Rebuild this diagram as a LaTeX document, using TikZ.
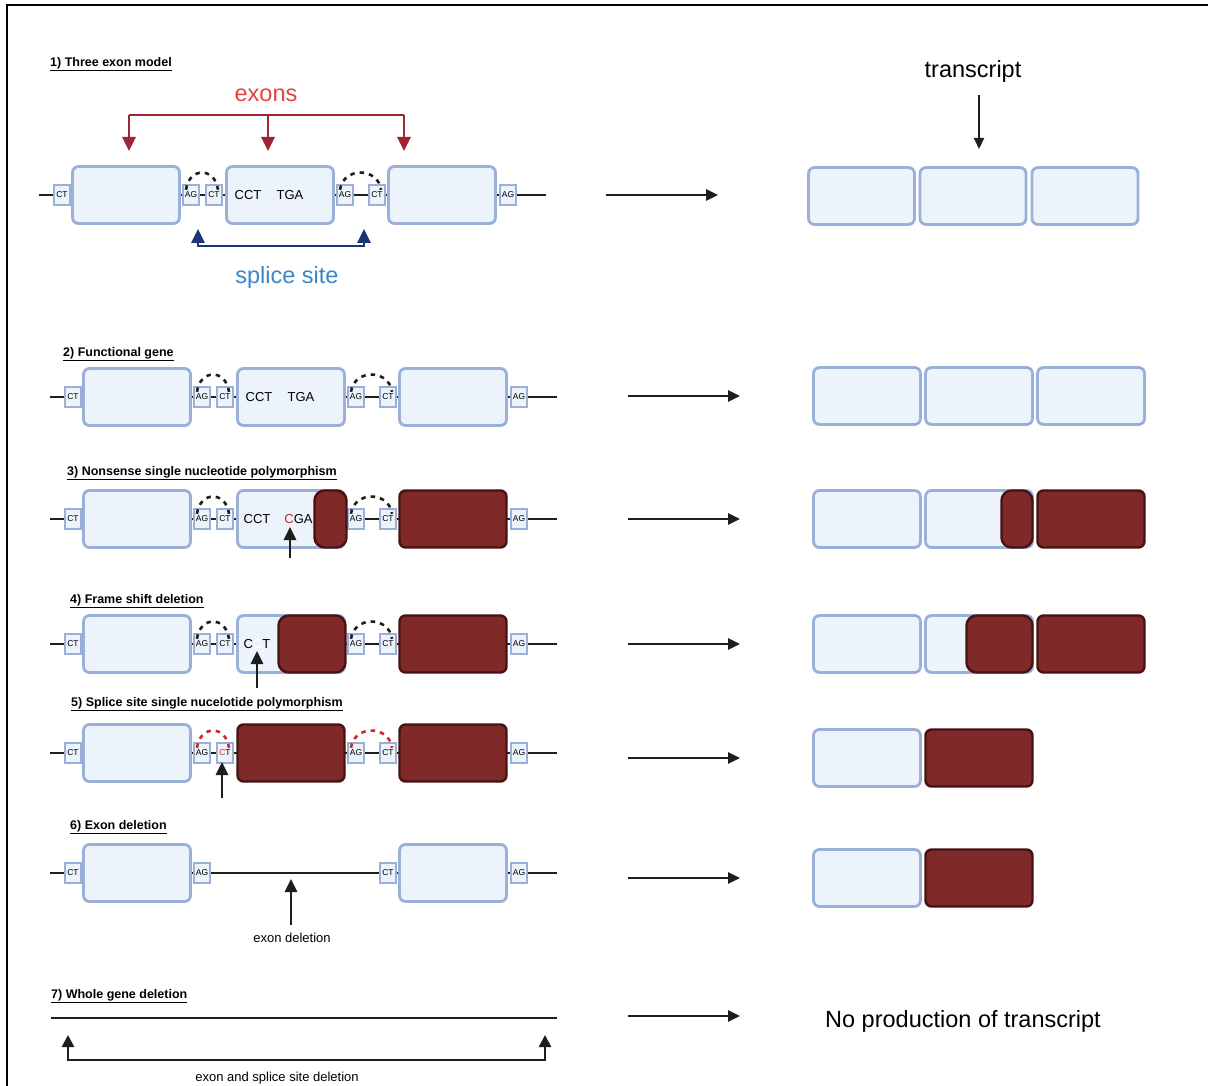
\documentclass[tikz,border=0pt]{standalone}
\usepackage{fontspec}
\setmainfont{Liberation Sans}
\usetikzlibrary{arrows.meta,calc}
\definecolor{efill}{RGB}{236,243,251}
\definecolor{ebord}{RGB}{155,176,217}
\definecolor{mfill}{RGB}{127,41,41}
\definecolor{mbord}{RGB}{72,18,18}
\definecolor{exred}{RGB}{232,68,62}
\definecolor{brred}{RGB}{158,36,54}
\definecolor{navy}{RGB}{28,52,120}
\definecolor{splblue}{RGB}{58,135,200}
\definecolor{snpred}{RGB}{205,40,40}
\definecolor{ink}{RGB}{30,30,30}
\tikzset{
 exon/.style={draw=ebord, fill=efill, line width=2.8pt, rounded corners=6pt, minimum width=107pt, minimum height=57pt, inner sep=0pt},
 mexon/.style={draw=mbord, fill=mfill, line width=2.4pt},
 mutblock/.style={draw=mbord, fill=mfill, line width=2.4pt, rounded corners=10pt, minimum height=57pt, inner sep=0pt},
 sitebox/.style={draw=ebord, fill=efill, line width=2.4pt, minimum width=16pt, minimum height=20pt, inner sep=0pt, font=\fontsize{8.5}{9}\selectfont},
 backbone/.style={draw=ink, line width=2.8pt},
 splice/.style={ink, line width=2.6pt, dash pattern=on 4.5pt off 5pt},
 heading/.style={anchor=west, font=\fontsize{12.5}{14}\selectfont\bfseries, inner sep=0pt},
 codon/.style={font=\fontsize{13}{14}\selectfont, inner sep=0pt},
 bigtext/.style={font=\fontsize{23.5}{26}\selectfont, inner sep=0pt},
 smalltext/.style={font=\fontsize{13}{15}\selectfont, inner sep=0pt},
 flow/.style={ink, line width=2.6pt, -{Triangle[length=12pt,width=11pt]}},
 pointer/.style={ink, line width=2.6pt, -{Triangle[length=13pt,width=12pt]}},
}
\newcommand{\GeneRow}[7]{%
\begin{scope}[shift={(#2,#3)}]
\coordinate (#1L) at (50,0);
\coordinate (#1R) at (557,0);
\draw[backbone] (#1L) -- (#1R);
\node[sitebox] (#1c1) at (73,0) {CT};
\node[exon] (#1e1) at (137,0) {};
\node[sitebox] (#1a1) at (202,0) {AG};
\node[sitebox] (#1c2) at (225,0) {#7};
\node[exon,#4] (#1e2) at (291,0) {};
\node[sitebox] (#1a2) at (356,0) {AG};
\node[sitebox] (#1c3) at (388,0) {CT};
\node[exon,#5] (#1e3) at (453,0) {};
\node[sitebox] (#1a3) at (519,0) {AG};
\end{scope}
\draw[splice,#6] ($(#1a1.north)+(-5,6)$) .. controls +(3,-23) and +(-3,-23) .. ($(#1c2.north)+(4,6)$);
\draw[splice,#6] ($(#1a2.north)+(-5,6)$) .. controls +(3,-23) and +(-3,-23) .. ($(#1c3.north)+(4,6)$);
}
\begin{document}
\begin{tikzpicture}[x=1pt,y=-1pt]
\useasboundingbox (0,0) rectangle (1208,1086);
\fill[white] (0,0) rectangle (1208,1086);
\draw[line width=2.2pt] (7,1090) -- (7,5) -- (1212,5);

% ---------- headings
\node[heading] (h1) at (50,64) {\underline{1) Three exon model}};
\node[heading] (h2) at (63,354) {\underline{2) Functional gene}};
\node[heading] (h3) at (67,473) {\underline{3) Nonsense single nucleotide polymorphism}};
\node[heading] (h4) at (70,601) {\underline{4) Frame shift deletion}};
\node[heading] (h5) at (71,704) {\underline{5) Splice site single nucelotide polymorphism}};
\node[heading] (h6) at (70,827) {\underline{6) Exon deletion}};
\node[heading] (h7) at (51,996) {\underline{7) Whole gene deletion}};

% ---------- row 1
\GeneRow{r1}{-11}{195}{}{}{ink}{CT}
\node[codon] (r1cct) at (248,195) {CCT};
\node[codon] (r1tga) at (290,195) {TGA};
% exons bracket
\node[bigtext, text=exred] (exlab) at (266,95) {exons};
\coordinate (exA) at (129,115); \coordinate (exB) at (268,115); \coordinate (exC) at (404,115);
\coordinate (exAt) at (129,151); \coordinate (exBt) at (268,151); \coordinate (exCt) at (404,151);
\draw[brred, line width=2.8pt] (exA) -- (exC);
\draw[brred, line width=2.8pt, -{Triangle[length=14pt,width=13pt]}] (exA) -- (exAt);
\draw[brred, line width=2.8pt, -{Triangle[length=14pt,width=13pt]}] (exB) -- (exBt);
\draw[brred, line width=2.8pt, -{Triangle[length=14pt,width=13pt]}] (exC) -- (exCt);
% splice site bracket
\coordinate (ssA) at (198,229); \coordinate (ssB) at (364,229);
\draw[navy, line width=2.8pt, {Triangle[length=14pt,width=13pt]}-{Triangle[length=14pt,width=13pt]}] (ssA) -- ++(0,17) -| (ssB);
\node[bigtext, text=splblue] (sslab) at (287,277) {splice site};

% ---------- transcript (row 1)
\node[bigtext] (txlab) at (973,71) {transcript};
\coordinate (txA) at (979,95); \coordinate (txB) at (979,149);
\draw[ink, line width=2pt, -{Triangle[length=11pt,width=10pt]}] (txA) -- (txB);
\node[exon, minimum width=106pt] (t1a) at (861.5,196) {};
\node[exon, minimum width=106pt] (t1b) at (973,196) {};
\node[exon, minimum width=106pt] (t1c) at (1085,196) {};

% ---------- row 2
\GeneRow{r2}{0}{397}{}{}{ink}{CT}
\node[codon] (r2cct) at (259,397) {CCT};
\node[codon] (r2tga) at (301,397) {TGA};
\node[exon] (t2a) at (867,396) {};
\node[exon] (t2b) at (979,396) {};
\node[exon] (t2c) at (1091,396) {};

% ---------- row 3
\GeneRow{r3}{0}{519}{}{mexon}{ink}{CT}
\node[codon] (r3cct) at (257,519) {CCT};
\node[codon] (r3cga) at (298.5,519) {{\color{snpred}C}GA};
\node[mutblock, minimum width=32pt] (r3m) at (330.5,519) {};
\coordinate (r3p) at (290,558); \coordinate (r3t) at (290,527);
\draw[pointer] (r3p) -- (r3t);
\node[exon] (t3a) at (867,519) {};
\node[exon] (t3b) at (979,519) {};
\node[mutblock, minimum width=31pt] (t3m) at (1017,519) {};
\node[exon, mexon] (t3c) at (1091,519) {};

% ---------- row 4
\GeneRow{r4}{0}{644}{}{mexon}{ink}{CT}
\node[codon] (r4cct) at (257,644) {C{\color{white}C}T};
\node[mutblock, minimum width=67pt] (r4m) at (312,644) {};
\coordinate (r4p) at (257,688); \coordinate (r4t) at (257,651);
\draw[pointer] (r4p) -- (r4t);
\node[exon] (t4a) at (867,644) {};
\node[exon] (t4b) at (979,644) {};
\node[mutblock, minimum width=66pt] (t4m) at (999.5,644) {};
\node[exon, mexon] (t4c) at (1091,644) {};

% ---------- row 5
\GeneRow{r5}{0}{753}{mexon}{mexon}{snpred}{{\color{snpred}C}T}
\coordinate (r5p) at (222,798); \coordinate (r5t) at (222,762);
\draw[pointer] (r5p) -- (r5t);
\node[exon] (t5a) at (867,758) {};
\node[exon, mexon] (t5b) at (979,758) {};

% ---------- row 6
\coordinate (r6L) at (50,873); \coordinate (r6R) at (557,873);
\draw[backbone] (r6L) -- (r6R);
\node[sitebox] (r6c1) at (73,873) {CT};
\node[exon] (r6e1) at (137,873) {};
\node[sitebox] (r6a1) at (202,873) {AG};
\node[sitebox] (r6c3) at (388,873) {CT};
\node[exon] (r6e3) at (453,873) {};
\node[sitebox] (r6a3) at (519,873) {AG};
\coordinate (r6p) at (291,925); \coordinate (r6t) at (291,879);
\draw[pointer] (r6p) -- (r6t);
\node[smalltext] (r6lab) at (292,938) {exon deletion};
\node[exon] (t6a) at (867,878) {};
\node[exon, mexon] (t6b) at (979,878) {};

% ---------- row 7
\coordinate (r7L) at (51,1018); \coordinate (r7R) at (557,1018);
\draw[backbone] (r7L) -- (r7R);
\coordinate (b7a) at (68,1035); \coordinate (b7b) at (545,1035);
\draw[ink, line width=2.6pt, {Triangle[length=12pt,width=12pt]}-{Triangle[length=12pt,width=12pt]}] (b7a) -- ++(0,25) -| (b7b);
\node[smalltext] (r7lab) at (277,1078) {exon and splice site deletion};
\node[bigtext] (r7tx) at (963,1021) {No production of transcript};

% ---------- flow arrows
\coordinate (f1a) at (606,195); \coordinate (f1b) at (718,195);
\draw[flow] (f1a) -- (f1b);
\foreach \yy/\nm in {396/2,519/3,644/4,758/5,878/6,1016/7}{
  \coordinate (f\nm a) at (628,\yy); \coordinate (f\nm b) at (740,\yy);
  \draw[flow] (f\nm a) -- (f\nm b);
}
\end{tikzpicture}
\end{document}
